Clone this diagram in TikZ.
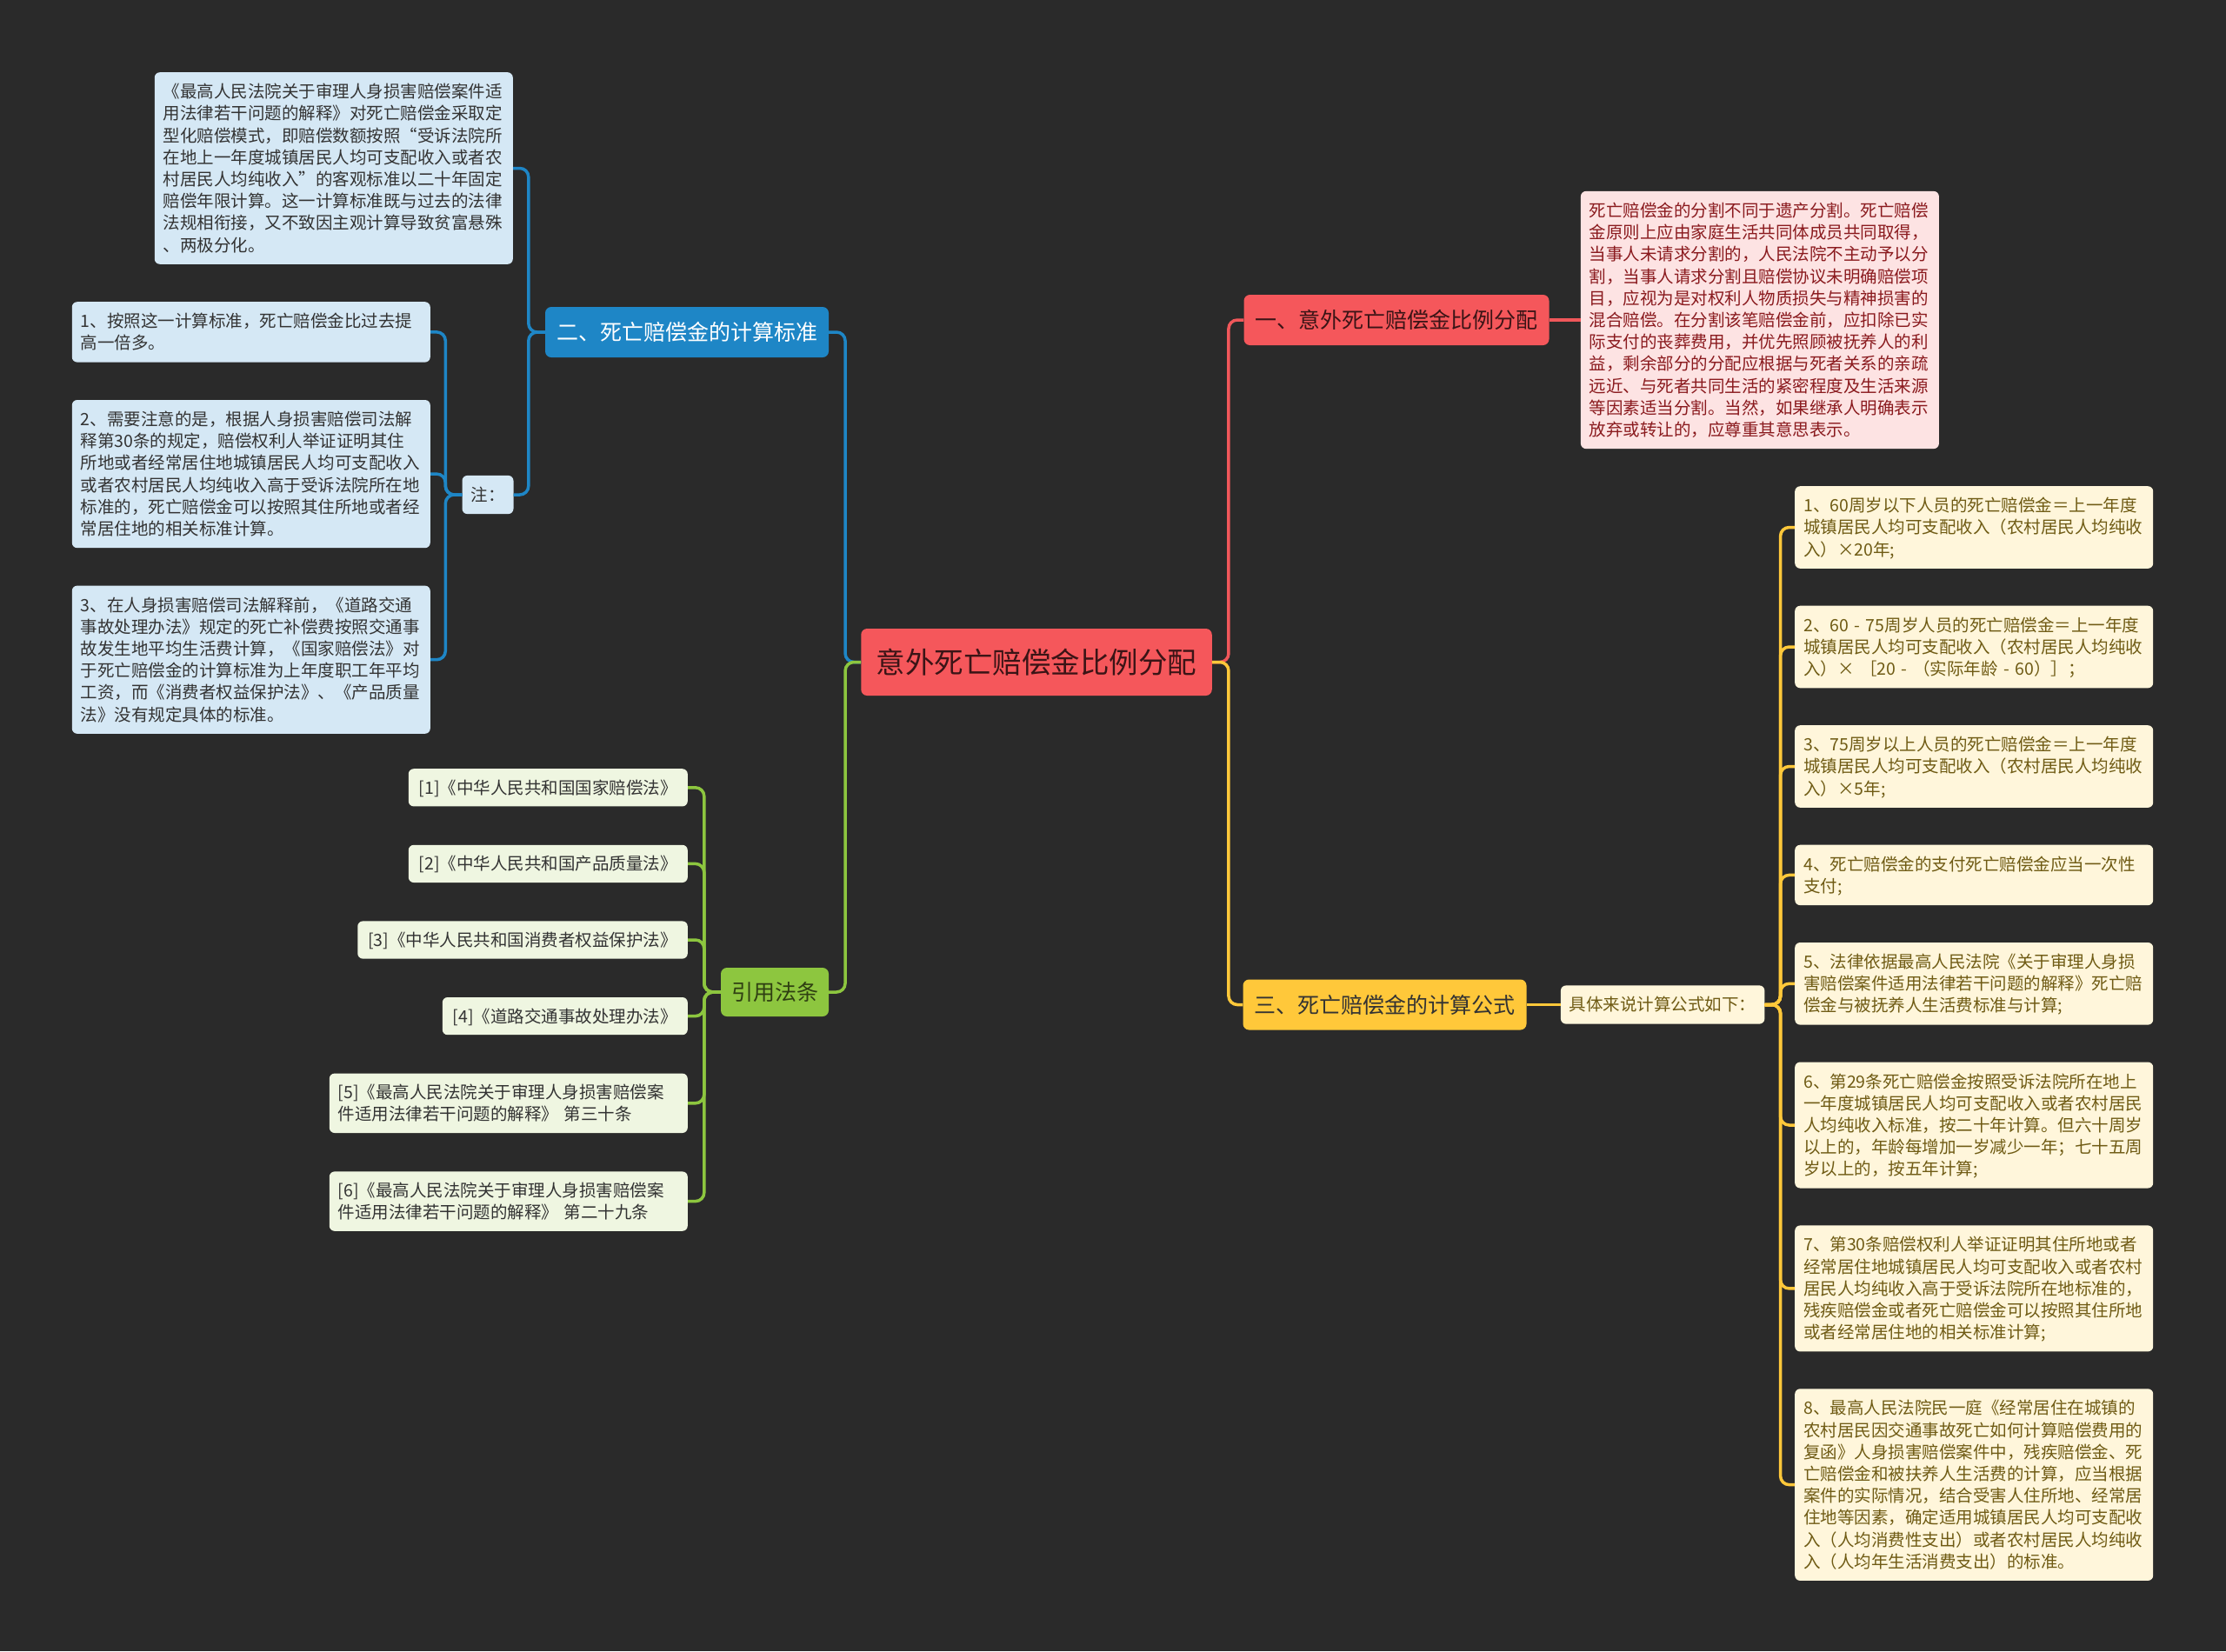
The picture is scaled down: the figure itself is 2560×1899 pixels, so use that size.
\documentclass[tikz,border=0pt]{standalone}
\usepackage{fontspec}
\setmainfont{Noto Sans CJK SC}
\usetikzlibrary{positioning}

\definecolor{bgdark}{HTML}{2A2A2A}
\definecolor{rootred}{HTML}{F5575B}
\definecolor{roottext}{HTML}{3B1416}
\definecolor{redline}{HTML}{F0575A}
\definecolor{redleaf}{HTML}{FDE3E3}
\definecolor{redtext}{HTML}{8A1A1E}
\definecolor{blueline}{HTML}{1E86C6}
\definecolor{blueleaf}{HTML}{D5E8F5}
\definecolor{greenline}{HTML}{8DC63F}
\definecolor{greenleaf}{HTML}{EFF6E1}
\definecolor{greentext}{HTML}{2F3F12}
\definecolor{yellowline}{HTML}{FFC83A}
\definecolor{yellowleaf}{HTML}{FFF6DB}
\definecolor{yellowtext}{HTML}{6F5B14}
\definecolor{leaftext}{HTML}{333333}

\begin{document}
\begin{tikzpicture}[x=1pt,y=-1pt,
    rootbox/.style={fill=rootred,text=roottext,rounded corners=7pt,inner xsep=17.5pt,inner ysep=17.5pt,
      font=\fontsize{33.5}{42}\selectfont,execute at begin node={\rule[-8.25pt]{0pt}{42pt}}},
    secbox/.style={rounded corners=7pt,inner xsep=13pt,inner ysep=13pt,
      font=\fontsize{25}{32}\selectfont,execute at begin node={\rule[-6.5pt]{0pt}{32pt}}},
    leafbox/.style={rounded corners=6pt,align=left,text width=392pt,inner xsep=10pt,inner ysep=9.5pt,
      font=\fontsize{19.5}{25.2}\selectfont,
      execute at begin node={\rule[-5.2pt]{0pt}{25.2pt}},execute at end node={\rule[-5.2pt]{0pt}{25.2pt}}},
    smallbox/.style={rounded corners=6pt,inner xsep=10pt,inner ysep=9.5pt,
      font=\fontsize{19.5}{25.2}\selectfont,execute at begin node={\rule[-5.2pt]{0pt}{25.2pt}}},
    lawbox/.style={fill=greenleaf,text=leaftext,rounded corners=6pt,inner xsep=12pt,inner ysep=9pt,
      font=\fontsize{19.5}{25.2}\selectfont,
      execute at begin node={\rule[-5.2pt]{0pt}{25.2pt}},execute at end node={\rule[-5.2pt]{0pt}{25.2pt}}},
    link/.style={line width=3.5pt,rounded corners=10pt}]

  \fill[bgdark] (0,0) rectangle (2560,1899);

  % centre and the four branches
  \node[rootbox] (root) at (1192,761.5) {意外死亡赔偿金比例分配};
  \node[secbox,fill=rootred,text=roottext] (sec1) at (1606,368) {一、意外死亡赔偿金比例分配};
  \node[secbox,fill=blueline,text=white] (sec2) at (790,382) {二、死亡赔偿金的计算标准};
  \node[secbox,fill=yellowline,text=black!80] (sec3) at (1592.5,1155.5) {三、死亡赔偿金的计算公式};
  \node[secbox,fill=greenline,text=greentext,inner xsep=12pt,inner ysep=12pt] (refs) at (891,1141) {引用法条};

  % branch one
  \node[leafbox,fill=redleaf,text=redtext,right=36pt of sec1] (part) {死亡赔偿金的分割不同于遗产分割。死亡赔偿\\
    金原则上应由家庭生活共同体成员共同取得，\\
    当事人未请求分割的，人民法院不主动予以分\\
    割，当事人请求分割且赔偿协议未明确赔偿项\\
    目，应视为是对权利人物质损失与精神损害的\\
    混合赔偿。在分割该笔赔偿金前，应扣除已实\\
    际支付的丧葬费用，并优先照顾被抚养人的利\\
    益，剩余部分的分配应根据与死者关系的亲疏\\
    远近、与死者共同生活的紧密程度及生活来源\\
    等因素适当分割。当然，如果继承人明确表示\\
    放弃或转让的，应尊重其意思表示。};

  % branch two
  \node[leafbox,fill=blueleaf,text=leaftext,anchor=east] (desc) at (590,193.5) {《最高人民法院关于审理人身损害赔偿案件适\\
    用法律若干问题的解释》对死亡赔偿金采取定\\
    型化赔偿模式，即赔偿数额按照“受诉法院所\\
    在地上一年度城镇居民人均可支配收入或者农\\
    村居民人均纯收入”的客观标准以二十年固定\\
    赔偿年限计算。这一计算标准既与过去的法律\\
    法规相衔接，又不致因主观计算导致贫富悬殊\\
    、两极分化。};
  \node[smallbox,fill=blueleaf,text=leaftext] (note) at (561,569) {注：};
  \node[leafbox,fill=blueleaf,text=leaftext,anchor=north east] (n1) at (495,347) {1、按照这一计算标准，死亡赔偿金比过去提\\
    高一倍多。};
  \node[leafbox,fill=blueleaf,text=leaftext,below=43pt of n1] (n2) {2、需要注意的是，根据人身损害赔偿司法解\\
    释第30条的规定，赔偿权利人举证证明其住\\
    所地或者经常居住地城镇居民人均可支配收入\\
    或者农村居民人均纯收入高于受诉法院所在地\\
    标准的，死亡赔偿金可以按照其住所地或者经\\
    常居住地的相关标准计算。};
  \node[leafbox,fill=blueleaf,text=leaftext,below=43pt of n2] (n3) {3、在人身损害赔偿司法解释前，《道路交通\\
    事故处理办法》规定的死亡补偿费按照交通事\\
    故发生地平均生活费计算，《国家赔偿法》对\\
    于死亡赔偿金的计算标准为上年度职工年平均\\
    工资，而《消费者权益保护法》、《产品质量\\
    法》没有规定具体的标准。};

  % branch three
  \node[smallbox,fill=yellowleaf,text=yellowtext,right=39pt of sec3] (calc) {具体来说计算公式如下：};
  \node[leafbox,fill=yellowleaf,text=yellowtext,anchor=north west] (f1) at (2064,559) {1、60周岁以下人员的死亡赔偿金＝上一年度\\
    城镇居民人均可支配收入（农村居民人均纯收\\
    入）×20年;};
  \node[leafbox,fill=yellowleaf,text=yellowtext,below=42.5pt of f1] (f2) {2、60 - 75周岁人员的死亡赔偿金＝上一年度\\
    城镇居民人均可支配收入（农村居民人均纯收\\
    入）× ［20 - （实际年龄 - 60）］；};
  \node[leafbox,fill=yellowleaf,text=yellowtext,below=42.5pt of f2] (f3) {3、75周岁以上人员的死亡赔偿金＝上一年度\\
    城镇居民人均可支配收入（农村居民人均纯收\\
    入）×5年;};
  \node[leafbox,fill=yellowleaf,text=yellowtext,below=42.5pt of f3] (f4) {4、死亡赔偿金的支付死亡赔偿金应当一次性\\
    支付;};
  \node[leafbox,fill=yellowleaf,text=yellowtext,below=42.5pt of f4] (f5) {5、法律依据最高人民法院《关于审理人身损\\
    害赔偿案件适用法律若干问题的解释》死亡赔\\
    偿金与被抚养人生活费标准与计算;};
  \node[leafbox,fill=yellowleaf,text=yellowtext,below=42.5pt of f5] (f6) {6、第29条死亡赔偿金按照受诉法院所在地上\\
    一年度城镇居民人均可支配收入或者农村居民\\
    人均纯收入标准，按二十年计算。但六十周岁\\
    以上的，年龄每增加一岁减少一年；七十五周\\
    岁以上的，按五年计算;};
  \node[leafbox,fill=yellowleaf,text=yellowtext,below=42.5pt of f6] (f7) {7、第30条赔偿权利人举证证明其住所地或者\\
    经常居住地城镇居民人均可支配收入或者农村\\
    居民人均纯收入高于受诉法院所在地标准的，\\
    残疾赔偿金或者死亡赔偿金可以按照其住所地\\
    或者经常居住地的相关标准计算;};
  \node[leafbox,fill=yellowleaf,text=yellowtext,below=42.5pt of f7] (f8) {8、最高人民法院民一庭《经常居住在城镇的\\
    农村居民因交通事故死亡如何计算赔偿费用的\\
    复函》人身损害赔偿案件中，残疾赔偿金、死\\
    亡赔偿金和被扶养人生活费的计算，应当根据\\
    案件的实际情况，结合受害人住所地、经常居\\
    住地等因素，确定适用城镇居民人均可支配收\\
    入（人均消费性支出）或者农村居民人均纯收\\
    入（人均年生活消费支出）的标准。};

  % cited laws
  \node[lawbox,anchor=north east] (r1) at (791,884) {[1]《中华人民共和国国家赔偿法》};
  \node[lawbox,below=44pt of r1.south east,anchor=north east] (r2) {[2]《中华人民共和国产品质量法》};
  \node[lawbox,below=44pt of r2.south east,anchor=north east] (r3) {[3]《中华人民共和国消费者权益保护法》};
  \node[lawbox,below=44pt of r3.south east,anchor=north east] (r4) {[4]《道路交通事故处理办法》};
  \node[lawbox,align=left,text width=392pt,inner xsep=10pt,below=44pt of r4.south east,anchor=north east] (r5) {[5]《最高人民法院关于审理人身损害赔偿案\\
    件适用法律若干问题的解释》 第三十条};
  \node[lawbox,align=left,text width=392pt,inner xsep=10pt,below=44pt of r5.south east,anchor=north east] (r6) {[6]《最高人民法院关于审理人身损害赔偿案\\
    件适用法律若干问题的解释》 第二十九条};

  % connectors
  \draw[link,redline] (root.east) -- ++(19,0) |- (sec1.west);
  \draw[link,yellowline] (root.east) -- ++(19,0) |- (sec3.west);
  \draw[link,blueline] (root.west) -- ++(-18,0) |- (sec2.east);
  \draw[link,greenline] (root.west) -- ++(-18,0) |- (refs.east);

  \draw[link,redline] (sec1.east) -- (part.west);

  \draw[link,blueline] (sec2.west) -- ++(-19,0) |- (desc.east);
  \draw[link,blueline] (sec2.west) -- ++(-19,0) |- (note.east);
  \draw[link,blueline] (note.west) -- ++(-19,0) |- (n1.east);
  \draw[link,blueline] (note.west) -- ++(-19,0) |- (n2.east);
  \draw[link,blueline] (note.west) -- ++(-19,0) |- (n3.east);

  \draw[link,yellowline] (sec3.east) -- (calc.west);
  \draw[link,yellowline] (calc.east) -- ++(18,0) |- (f1.west);
  \draw[link,yellowline] (calc.east) -- ++(18,0) |- (f2.west);
  \draw[link,yellowline] (calc.east) -- ++(18,0) |- (f3.west);
  \draw[link,yellowline] (calc.east) -- ++(18,0) |- (f4.west);
  \draw[link,yellowline] (calc.east) -- ++(18,0) |- (f5.west);
  \draw[link,yellowline] (calc.east) -- ++(18,0) |- (f6.west);
  \draw[link,yellowline] (calc.east) -- ++(18,0) |- (f7.west);
  \draw[link,yellowline] (calc.east) -- ++(18,0) |- (f8.west);

  \draw[link,greenline] (refs.west) -- ++(-19,0) |- (r1.east);
  \draw[link,greenline] (refs.west) -- ++(-19,0) |- (r2.east);
  \draw[link,greenline] (refs.west) -- ++(-19,0) |- (r3.east);
  \draw[link,greenline] (refs.west) -- ++(-19,0) |- (r4.east);
  \draw[link,greenline] (refs.west) -- ++(-19,0) |- (r5.east);
  \draw[link,greenline] (refs.west) -- ++(-19,0) |- (r6.east);
\end{tikzpicture}
\end{document}
